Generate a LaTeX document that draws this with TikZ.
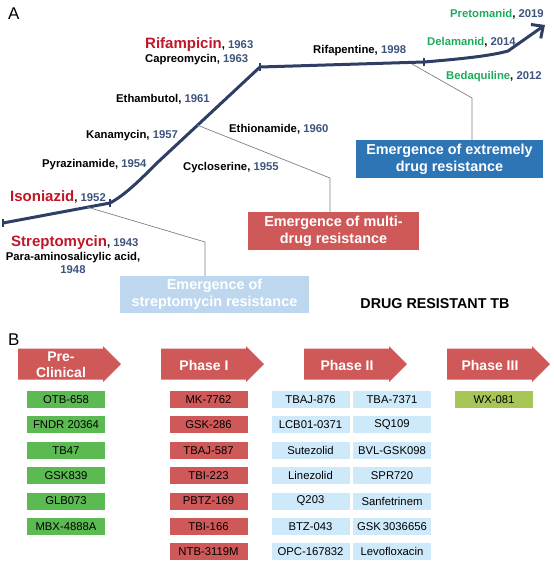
\documentclass[tikz,border=0pt]{standalone}
\usepackage{fontspec}
\setmainfont{Liberation Sans}
\usetikzlibrary{positioning,arrows.meta}
\definecolor{timeline}{RGB}{47,62,100}
\definecolor{yearblue}{RGB}{62,84,124}
\definecolor{keyred}{RGB}{192,22,40}
\definecolor{newgreen}{RGB}{30,170,92}
\definecolor{phasered}{RGB}{207,88,88}
\definecolor{xdrblue}{RGB}{46,117,182}
\definecolor{strepblue}{RGB}{189,215,238}
\definecolor{itemblue}{RGB}{205,233,250}
\definecolor{itemgreen}{RGB}{92,186,82}
\definecolor{itemolive}{RGB}{168,197,88}
\newcommand{\yr}[1]{\textcolor{yearblue}{#1}}
\newcommand{\keydrug}[1]{{\fontsize{15}{17}\selectfont\textcolor{keyred}{#1}}}
\newcommand{\newdrug}[1]{\textcolor{newgreen}{#1}}
\tikzset{
    drug/.style = {
        anchor=base west,
        inner sep=0,
        font=\bfseries\fontsize{11.3}{13}\selectfont,
        },
    leader/.style = {
        draw=gray,
        line width=0.7pt,
        },
    tick/.style = {
        draw=timeline,
        line width=1.2pt,
        },
    resist/.style = {
        text=white,
        align=center,
        inner sep=0,
        minimum height=38pt,
        font=\bfseries\fontsize{14.4}{17}\selectfont,
        },
    phase arrow/.style = {
        fill=phasered,
        },
    phase/.style = {
        text=white,
        align=center,
        inner sep=0,
        font=\bfseries\fontsize{14}{16}\selectfont,
        },
    item/.style = {
        inner sep=0,
        minimum width=78pt,
        minimum height=17pt,
        font=\fontsize{11.3}{13}\selectfont,
        },
    panel/.style = {
        font=\fontsize{17}{20}\selectfont,
        anchor=base west,
        inner sep=0,
    },
}
\begin{document}
\begin{tikzpicture}[x=1pt,y=-1pt]
    \useasboundingbox (0,0) rectangle (554,571);

    % panel A: timeline
    \node[panel] (labA) at (8,19) {A};
    \coordinate (t0) at (3,223);
    \coordinate (t1) at (110,203);
    \coordinate (t2) at (260,67);
    \coordinate (t3) at (424,62);
    \coordinate (tip) at (545,25);
    \draw[timeline, line width=3pt, line join=round, -{Straight Barb[length=9pt,width=17pt]}]
        (t0) -- (t1) .. controls (125,195) and (140,180) .. (157,163) -- (t2)
        -- (t3) .. controls (460,59) and (490,56) .. (508,51) -- (tip);
    \foreach \t in {t0,t1,t2,t3}
        \draw[tick] ([yshift=-4pt]\t) -- ([yshift=4pt]\t);

    \node[drug] (rif) at (145,48) {\keydrug{Rifampicin}, \yr{1963}};
    \node[drug] (cap) at (145,62) {Capreomycin, \yr{1963}};
    \node[drug] (emb) at (116,102) {Ethambutol, \yr{1961}};
    \node[drug] (kan) at (86,138) {Kanamycin, \yr{1957}};
    \node[drug] (pza) at (42,167) {Pyrazinamide, \yr{1954}};
    \node[drug] (inh) at (10,201) {\keydrug{Isoniazid}, \yr{1952}};
    \node[drug] (str) at (11,246) {\keydrug{Streptomycin}, \yr{1943}};
    \node[drug, anchor=north, align=center] (pas) at (73,252) {Para-aminosalicylic acid,\\\yr{1948}};
    \node[drug] (cyc) at (183,170) {Cycloserine, \yr{1955}};
    \node[drug] (eto) at (229,132) {Ethionamide, \yr{1960}};
    \node[drug] (rpt) at (313,53) {Rifapentine, \yr{1998}};
    \node[drug] (pa) at (450,17) {\newdrug{Pretomanid}, \yr{2019}};
    \node[drug] (dlm) at (427,45) {\newdrug{Delamanid}, \yr{2014}};
    \node[drug] (bdq) at (446,79) {\newdrug{Bedaquiline}, \yr{2012}};

    \node[resist, fill=xdrblue, minimum width=187pt] (xdr) at (449.5,159) {Emergence of extremely\\drug resistance};
    \node[resist, fill=phasered, minimum width=171pt] (mdr) at (333.5,231) {Emergence of multi-\\drug resistance};
    \node[resist, fill=strepblue, minimum width=189pt, minimum height=37pt] (strep) at (214.5,294.5) {Emergence of\\streptomycin resistance};
    \node[font=\bfseries\fontsize{14.3}{16}\selectfont] (drtb) at (435,304) {DRUG RESISTANT TB};

    \coordinate (strepstart) at (87,207);
    \coordinate (strepbend) at (205,242);
    \coordinate (mdrstart) at (197,125);
    \coordinate (mdrbend) at (330,178);
    \coordinate (xdrstart) at (412,64);
    \coordinate (xdrbend) at (472,98);
    \draw[leader] (strepstart) -- (strepbend) -- (strepbend |- strep.north);
    \draw[leader] (mdrstart) -- (mdrbend) -- (mdrbend |- mdr.north);
    \draw[leader] (xdrstart) -- (xdrbend) -- (xdrbend |- xdr.north);

    % panel B: pipeline
    \node[panel] (labB) at (8,345) {B};
    \foreach \x in {18,161,304,447}
        \fill[phase arrow] (\x,348.5) -- ++(85,0) -- ++(0,-2.5) -- ++(18,18) -- ++(-18,18)
            -- ++(0,-2.5) -- ++(-85,0) -- cycle;
    \node[phase] (pre) at (61,365) {Pre-\\Clinical};
    \node[phase] (ph1) at (204,365) {Phase I};
    \node[phase] (ph2) at (347,365) {Phase II};
    \node[phase] (ph3) at (490,365) {Phase III};

    \node[item, fill=itemgreen] (otb) at (66,399.5) {OTB-658};
    \node[item, fill=itemgreen, below=8pt of otb] (fndr) {FNDR 20364};
    \node[item, fill=itemgreen, below=8pt of fndr] (tb47) {TB47};
    \node[item, fill=itemgreen, below=8pt of tb47] (gsk839) {GSK839};
    \node[item, fill=itemgreen, below=8pt of gsk839] (glb) {GLB073};
    \node[item, fill=itemgreen, below=8pt of glb] (mbx) {MBX-4888A};

    \node[item, fill=phasered] (mk) at (208.5,399.5) {MK-7762};
    \node[item, fill=phasered, below=8pt of mk] (gsk286) {GSK-286};
    \node[item, fill=phasered, below=8pt of gsk286] (tbaj587) {TBAJ-587};
    \node[item, fill=phasered, below=8pt of tbaj587] (tbi223) {TBI-223};
    \node[item, fill=phasered, below=8pt of tbi223] (pbtz) {PBTZ-169};
    \node[item, fill=phasered, below=8pt of pbtz] (tbi166) {TBI-166};
    \node[item, fill=phasered, below=8pt of tbi166] (ntb) {NTB-3119M};

    \node[item, fill=itemblue] (tbaj876) at (310.5,399.5) {TBAJ-876};
    \node[item, fill=itemblue, below=8pt of tbaj876] (lcb) {LCB01-0371};
    \node[item, fill=itemblue, below=8pt of lcb] (sut) {Sutezolid};
    \node[item, fill=itemblue, below=8pt of sut] (lzd) {Linezolid};
    \node[item, fill=itemblue, below=8pt of lzd] (q203) {Q203};
    \node[item, fill=itemblue, below=8pt of q203] (btz) {BTZ-043};
    \node[item, fill=itemblue, below=8pt of btz] (opc) {OPC-167832};

    \node[item, fill=itemblue] (tba) at (392,399.5) {TBA-7371};
    \node[item, fill=itemblue, below=8pt of tba] (sq) {SQ109};
    \node[item, fill=itemblue, below=8pt of sq] (bvl) {BVL-GSK098};
    \node[item, fill=itemblue, below=8pt of bvl] (spr) {SPR720};
    \node[item, fill=itemblue, below=8pt of spr] (sanf) {Sanfetrinem};
    \node[item, fill=itemblue, below=8pt of sanf] (gsk303) {GSK\,3036656};
    \node[item, fill=itemblue, below=8pt of gsk303] (lfx) {Levofloxacin};

    \node[item, fill=itemolive] (wx) at (494,399.5) {WX-081};
\end{tikzpicture}
\end{document}
